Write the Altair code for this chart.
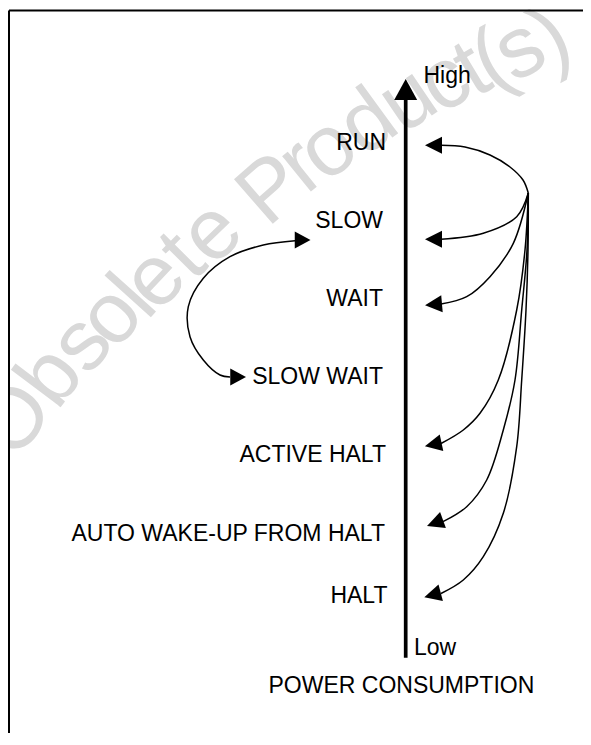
import altair as alt
import pandas as pd

# ---------------- data (page-pixel coordinates) -------------
# state labels on the left of the power axis
state_labels = ["RUN", "SLOW", "WAIT", "SLOW WAIT", "ACTIVE HALT",
                "AUTO WAKE-UP FROM HALT", "HALT"]
state_label_y = [150, 227.7, 306, 384, 462.3, 541, 603.3]
state_label_x = [386, 383, 383, 383, 386, 385, 387.5]

# axis captions
cap_text = ["High", "Low", "POWER CONSUMPTION"]
cap_x = [423.5, 414, 268.5]
cap_y = [83.3, 655, 692.7]

# the vertical power axis
axis_x = [405.7]
axis_y_top = [100]
axis_y_bottom = [657.7]

# arrow heads: name, centre x, centre y, angle, direction
head_name = ["up", "RUN", "SLOW", "WAIT", "ACTIVE HALT", "AUTO WAKE-UP FROM HALT",
             "HALT", "to SLOW", "to SLOW WAIT"]
head_x = [405.7, 433.5, 433.5, 433.5, 433.2, 435.0, 432.5, 302.0, 237.5]
head_y = [89.5, 145.3, 239.3, 304.5, 444.5, 523.0, 595.0, 240.0, 377.0]
head_angle = [0, 0, 0, 355, 348, 340, 345, 0, 0]
head_kind = ["up", "left", "left", "left", "left", "left", "left", "right", "right"]

# transition curves (points along each curve)
curve_run_x = [441, 465, 490, 510, 523, 528.3]
curve_run_y = [145.3, 147, 155, 167, 180, 193]
curve_slow_x = [528.3, 516.7, 483.3, 441]
curve_slow_y = [193, 216.7, 233.3, 239.3]
curve_wait_x = [528.3, 513.3, 490, 466.7, 441]
curve_wait_y = [193, 243.3, 276.7, 296.7, 304]
curve_active_x = [528.3, 525, 516.7, 498.3, 480, 463.3, 441]
curve_active_y = [193, 250, 310, 380, 413.3, 430, 443.5]
curve_awu_x = [528.3, 527, 521.7, 515, 503.3, 486.7, 466.7, 443]
curve_awu_y = [193, 250, 310, 380, 430, 480, 506.7, 521.7]
curve_halt_x = [528.3, 528, 526, 521.7, 516.7, 503.3, 483.3, 463.3, 441]
curve_halt_y = [193, 250, 310, 380, 446.7, 513.3, 556.7, 580, 593.5]
curve_slowwait_x = [295, 263.3, 230, 203.3, 188.3, 190, 203.3, 220, 230]
curve_slowwait_y = [240.7, 245, 256.7, 278.3, 306.7, 336.7, 360, 375, 377]

# frame lines (left edge and top edge of the figure box)
frame_left_x = [9]
frame_left_y = [10.5]
frame_left_y2 = [733]
frame_top_x = [9]
frame_top_x2 = [583]
frame_top_y = [10.5]

# watermark characters
wm_chars = list("Obsolete") + list("Product(s)")
wm_x = [15, 51, 82, 111, 134, 155, 183, 212,
        272, 301, 328, 368, 408, 445, 472, 492, 520, 552]
wm_y = [420, 377, 344, 317, 297, 279, 256, 233,
        190, 166, 149, 123, 100, 82, 70, 62, 50, 38]
wm_angle = [305, 307, 309, 311, 312, 313, 315, 316,
            319, 321, 322, 324, 326, 328, 329, 330, 331, 332]

# ---------------- build tables ----------------
X0, X1, Y0, Y1 = 8, 583, 8, 733
W, H = X1 - X0, Y1 - Y0

xs = alt.Scale(domain=[X0, X1], nice=False, zero=False)
ys = alt.Scale(domain=[Y0, Y1], nice=False, zero=False, reverse=True)
FONT = "Liberation Sans"

curves = []
for name, cx, cy in [("run", curve_run_x, curve_run_y),
                     ("slow", curve_slow_x, curve_slow_y),
                     ("wait", curve_wait_x, curve_wait_y),
                     ("active", curve_active_x, curve_active_y),
                     ("awu", curve_awu_x, curve_awu_y),
                     ("halt", curve_halt_x, curve_halt_y),
                     ("slowwait", curve_slowwait_x, curve_slowwait_y)]:
    for i, (a, b) in enumerate(zip(cx, cy)):
        curves.append({"curve": name, "seq": i, "x": a, "y": b})
curves_df = pd.DataFrame(curves)

labels_df = pd.DataFrame({"t": state_labels, "x": state_label_x, "y": state_label_y})
caps_df = pd.DataFrame({"t": cap_text, "x": cap_x, "y": cap_y})
axis_df = pd.DataFrame({"x": axis_x, "y": axis_y_top, "y2": axis_y_bottom})
heads_df = pd.DataFrame({"name": head_name, "x": head_x, "y": head_y,
                         "angle": head_angle, "kind": head_kind})
fl_df = pd.DataFrame({"x": frame_left_x, "y": frame_left_y, "y2": frame_left_y2})
ft_df = pd.DataFrame({"x": frame_top_x, "x2": frame_top_x2, "y": frame_top_y})
wm_df = pd.DataFrame({"c": wm_chars, "x": wm_x, "y": wm_y, "angle": wm_angle})

X = alt.X("x:Q", scale=xs, axis=None)
Y = alt.Y("y:Q", scale=ys, axis=None)

watermark = alt.Chart(wm_df).mark_text(
    font=FONT, fontSize=86, color="#d9d9d9", align="center", baseline="middle"
).encode(x=X, y=Y, text="c:N", angle=alt.Angle("angle:Q", scale=None))

frame_left = alt.Chart(fl_df).mark_rule(color="black", strokeWidth=2).encode(
    x=X, y=Y, y2="y2:Q")
frame_top = alt.Chart(ft_df).mark_rule(color="black", strokeWidth=2).encode(
    x=X, x2="x2:Q", y=Y)

axis_line = alt.Chart(axis_df).mark_rule(color="black", strokeWidth=3.7).encode(
    x=X, y=Y, y2="y2:Q")

lines = alt.Chart(curves_df).mark_line(
    color="black", strokeWidth=1.5, interpolate="catmull-rom"
).encode(x=X, y=Y, detail="curve:N", order="seq:Q")

def heads(kind, path, size):
    return alt.Chart(heads_df).transform_filter(
        alt.datum.kind == kind
    ).mark_point(shape=path, filled=True, opacity=1, size=size,
                 color="black", strokeWidth=0).encode(
        x=X, y=Y, angle=alt.Angle("angle:Q", scale=None))

head_up = heads("up", "M 0 -0.91 L 1 0.91 L -1 0.91 Z", 23 * 23)
head_left = heads("left", "M -1 0 L 1 -1 L 1 1 Z", 17 * 17)
head_right = heads("right", "M 1 0 L -0.85 -1 L -0.85 1 Z", 17 * 17)

labels = alt.Chart(labels_df).mark_text(
    font=FONT, fontSize=23, color="black", align="right", baseline="alphabetic"
).encode(x=X, y=Y, text="t:N")

caps = alt.Chart(caps_df).mark_text(
    font=FONT, fontSize=23, color="black", align="left", baseline="alphabetic"
).encode(x=X, y=Y, text="t:N")

chart = alt.layer(
    watermark, frame_left, frame_top, axis_line, lines,
    head_up, head_left, head_right, labels, caps
).properties(
    width=W, height=H, padding=0, autosize=alt.AutoSizeParams(type="none")
).configure_view(stroke=None)

chart.save("out.html", embed_options={"renderer": "svg", "actions": False})
